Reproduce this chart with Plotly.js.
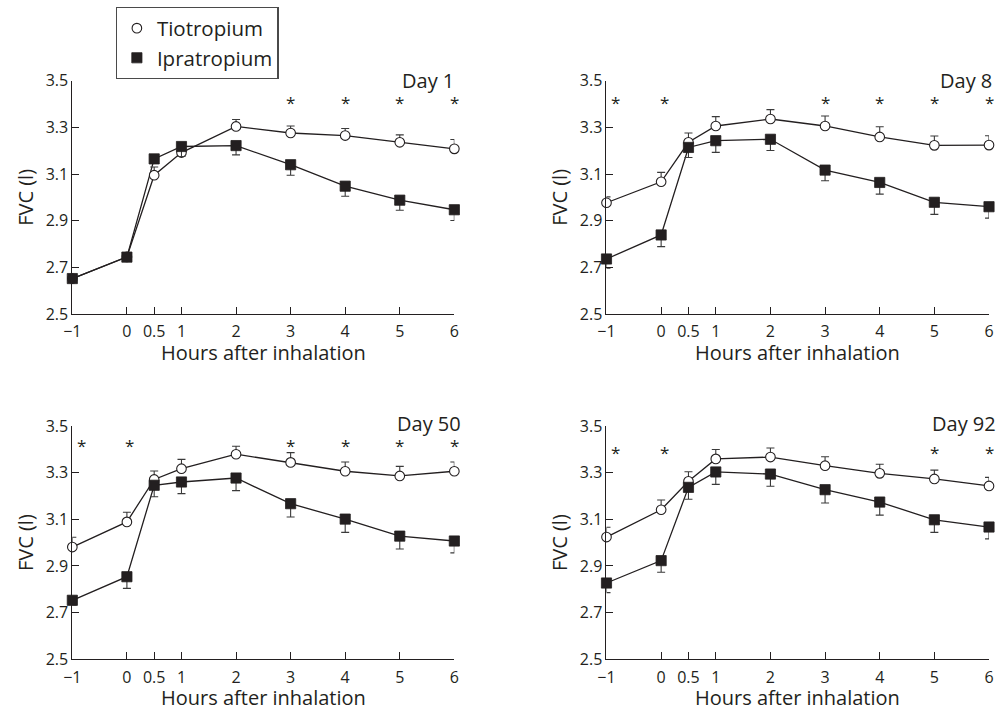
<!DOCTYPE html>
<html><head><meta charset="utf-8">
<script src="https://cdn.plot.ly/plotly-3.0.1.min.js"></script>
<style>html,body{margin:0;padding:0;background:#fff}#chart{width:999px;height:710px}</style>
</head><body><div id="chart"></div>
<script>
// Shared categories / tick labels
const hours = [-1, 0, 0.5, 1, 2, 3, 4, 5, 6];
const hourLabels = ['\u22121', '0', '0.5', '1', '2', '3', '4', '5', '6'];
const fvcTicks = [2.5, 2.7, 2.9, 3.1, 3.3, 3.5];
const fvcLabels = ['2.5', '2.7', '2.9', '3.1', '3.3', '3.5'];
const seriesNames = ['Tiotropium', 'Ipratropium'];
const dayLabels = ['Day 1', 'Day 8', 'Day 50', 'Day 92'];
const xTitle = 'Hours after inhalation';
const yTitle = 'FVC (l)';

// Day 1
const tio1 = [2.652, 2.745, 3.095, 3.192, 3.304, 3.276, 3.265, 3.236, 3.208];
const tio1Err = [0.01, 0.01, 0.035, 0.02, 0.03, 0.03, 0.03, 0.032, 0.04];
const ipra1 = [2.652, 2.744, 3.165, 3.218, 3.222, 3.140, 3.048, 2.988, 2.947];
const ipra1Err = [0.01, 0.01, 0.02, 0.043, 0.04, 0.045, 0.043, 0.043, 0.046];
const star1 = [3, 4, 5, 6];

// Day 8
const tio8 = [2.977, 3.067, 3.236, 3.306, 3.336, 3.306, 3.259, 3.223, 3.224];
const tio8Err = [0.025, 0.04, 0.04, 0.04, 0.04, 0.043, 0.044, 0.04, 0.04];
const ipra8 = [2.736, 2.839, 3.214, 3.243, 3.249, 3.117, 3.064, 2.979, 2.960];
const ipra8Err = [0.04, 0.05, 0.043, 0.05, 0.048, 0.046, 0.05, 0.052, 0.049];
const star8 = [-1, 0, 3, 4, 5, 6];

// Day 50
const tio50 = [2.981, 3.089, 3.271, 3.317, 3.379, 3.344, 3.306, 3.286, 3.306];
const tio50Err = [0.042, 0.041, 0.036, 0.04, 0.034, 0.042, 0.04, 0.041, 0.04];
const ipra50 = [2.753, 2.854, 3.246, 3.260, 3.277, 3.167, 3.101, 3.028, 3.007];
const ipra50Err = [0.02, 0.05, 0.049, 0.05, 0.054, 0.057, 0.057, 0.055, 0.051];
const star50 = [-1, 0, 3, 4, 5, 6];

// Day 92
const tio92 = [3.024, 3.141, 3.263, 3.359, 3.367, 3.330, 3.297, 3.273, 3.243];
const tio92Err = [0.042, 0.042, 0.041, 0.04, 0.039, 0.038, 0.039, 0.038, 0.037];
const ipra92 = [2.827, 2.923, 3.237, 3.303, 3.294, 3.227, 3.174, 3.098, 3.067];
const ipra92Err = [0.041, 0.05, 0.051, 0.053, 0.052, 0.057, 0.056, 0.054, 0.051];
const star92 = [-1, 0, 5, 6];

// Significance marker level (FVC units) per panel
const starLevel = [3.417, 3.417, 3.423, 3.393];

const INK = '#231f20';
const FONT = '"Open Sans", "DejaVu Sans", sans-serif';

const panels = [
  {tio: tio1, tioErr: tio1Err, ipra: ipra1, ipraErr: ipra1Err, stars: star1},
  {tio: tio8, tioErr: tio8Err, ipra: ipra8, ipraErr: ipra8Err, stars: star8},
  {tio: tio50, tioErr: tio50Err, ipra: ipra50, ipraErr: ipra50Err, stars: star50},
  {tio: tio92, tioErr: tio92Err, ipra: ipra92, ipraErr: ipra92Err, stars: star92}
];

const xDomains = [[0.0724, 0.4548], [0.6071, 0.9900], [0.0724, 0.4548], [0.6071, 0.9900]];
const yDomains = [[0.5577, 0.8863], [0.5577, 0.8863], [0.0714, 0.4000], [0.0714, 0.4000]];
const dayXShift = [2, 5, 9, 9];
const dayYShift = [0, 0, 3, 3];
const xTitleShift = [-38, -38, -38, -38];

const noErr = hours.map(() => 0);
const traces = [];
const annotations = [];
const layout = {
  width: 999, height: 710,
  margin: {l: 0, r: 0, t: 0, b: 0},
  paper_bgcolor: '#ffffff', plot_bgcolor: 'rgba(0,0,0,0)',
  font: {family: FONT, color: INK, size: 16},
  showlegend: true,
  legend: {
    x: 0.1158, y: 0.99, xanchor: 'left', yanchor: 'top',
    bordercolor: '#4a4a4a', borderwidth: 1.2, bgcolor: '#ffffff',
    font: {family: FONT, size: 20.5, color: INK},
    traceorder: 'normal', itemwidth: 30
  },
  annotations: annotations
};

panels.forEach((p, i) => {
  const n = i + 1;
  const xa = n === 1 ? 'x' : 'x' + n;
  const ya = n === 1 ? 'y' : 'y' + n;
  const xk = n === 1 ? 'xaxis' : 'xaxis' + n;
  const yk = n === 1 ? 'yaxis' : 'yaxis' + n;

  layout[xk] = {
    domain: xDomains[i], anchor: ya, range: [-1, 6],
    tickmode: 'array', tickvals: hours, ticktext: hourLabels,
    ticks: 'inside', ticklen: 7, tickwidth: 1, tickcolor: INK,
    showline: true, linecolor: INK, linewidth: 1,
    showgrid: false, zeroline: false, fixedrange: true,
    ticklabelstandoff: 3,
    tickfont: {size: 16, color: INK, family: FONT}
  };
  layout[yk] = {
    domain: yDomains[i], anchor: xa, range: [2.5, 3.5],
    tickmode: 'array', tickvals: fvcTicks, ticktext: fvcLabels,
    ticks: 'inside', ticklen: 7, tickwidth: 1, tickcolor: INK,
    showline: true, linecolor: INK, linewidth: 1,
    showgrid: false, zeroline: false, fixedrange: true,
    tickfont: {size: 16, color: INK, family: FONT},
    title: {text: yTitle, font: {size: 20, color: INK, family: FONT}, standoff: 6}
  };

  // connecting lines
  [p.tio, p.ipra].forEach((vals) => {
    traces.push({
      x: hours, y: vals, xaxis: xa, yaxis: ya, type: 'scatter', mode: 'lines',
      line: {color: INK, width: 1.3}, showlegend: false, hoverinfo: 'skip', cliponaxis: false
    });
  });

  // Tiotropium: open circles, upward SEM bars
  traces.push({
    x: hours, y: p.tio, xaxis: xa, yaxis: ya, type: 'scatter', mode: 'markers',
    name: seriesNames[0], legendgroup: 'tio', showlegend: i === 0, cliponaxis: false,
    marker: {symbol: 'circle', size: 9.6, color: '#ffffff', line: {color: INK, width: 1.1}},
    error_y: {type: 'data', symmetric: false, array: p.tioErr, arrayminus: noErr,
              color: '#3a3a3a', thickness: 1.1, width: 4}
  });
  // Ipratropium: filled squares, downward SEM bars
  traces.push({
    x: hours, y: p.ipra, xaxis: xa, yaxis: ya, type: 'scatter', mode: 'markers',
    name: seriesNames[1], legendgroup: 'ipra', showlegend: i === 0, cliponaxis: false,
    marker: {symbol: 'square', size: 10.2, color: INK, line: {color: INK, width: 0.8}},
    error_y: {type: 'data', symmetric: false, array: noErr, arrayminus: p.ipraErr,
              color: '#3a3a3a', thickness: 1.1, width: 4}
  });

  // x-axis title (placed under the tick labels)
  annotations.push({
    text: xTitle, xref: xa + ' domain', yref: ya + ' domain',
    x: 0.5, y: 0, xanchor: 'center', yanchor: 'middle', yshift: xTitleShift[i],
    showarrow: false, font: {size: 20, color: INK, family: FONT}
  });
  // Day label
  annotations.push({
    text: dayLabels[i], xref: xa + ' domain', yref: ya + ' domain',
    x: 1, y: 1, xanchor: 'right', yanchor: 'middle',
    xshift: dayXShift[i], yshift: dayYShift[i],
    showarrow: false, font: {size: 20, color: INK, family: FONT}
  });
  // significance asterisks
  p.stars.forEach((sx) => {
    annotations.push({
      text: '*', xref: xa, yref: ya, x: sx, y: starLevel[i],
      xanchor: 'center', yanchor: 'middle', yshift: -2,
      xshift: sx === -1 ? 9 : (sx === 0 ? 3 : 0),
      showarrow: false, font: {size: 17, color: INK, family: FONT}
    });
  });
});

Plotly.newPlot('chart', traces, layout, {staticPlot: true, displayModeBar: false});
</script>
</body></html>
